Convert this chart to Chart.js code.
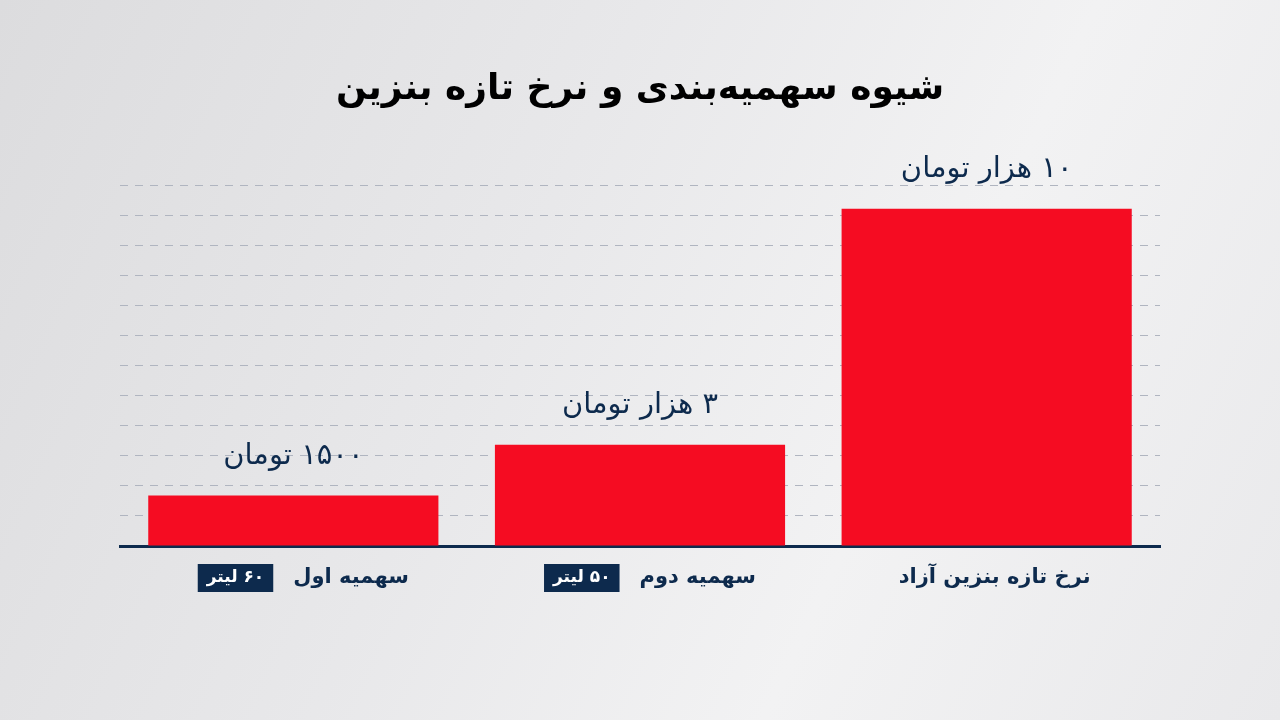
<!DOCTYPE html>
<html lang="fa">
<head>
<meta charset="utf-8">
<title>شیوه سهمیه‌بندی و نرخ تازه بنزین</title>
<script src="https://cdn.jsdelivr.net/npm/chart.js@4/dist/chart.umd.min.js"></script>
<style>
  html, body { margin: 0; padding: 0; }
  body {
    width: 1280px; height: 720px; overflow: hidden;
    background: linear-gradient(115deg, #dcdcde 0%, #e8e8ea 40%, #f2f2f3 68%, #e9e9eb 100%);
  }
  #wrap { position: relative; width: 1280px; height: 720px; }
</style>
</head>
<body>
<div id="wrap"><canvas id="fuel" width="1280" height="720"></canvas></div>
<script>
// data
const categories = ["سهمیه اول", "سهمیه دوم", "نرخ تازه بنزین آزاد"];
const prices = [1500, 3000, 10000];
const priceLabels = ["۱۵۰۰ تومان", "۳ هزار تومان", "۱۰ هزار تومان"];
const quotaLabels = ["۶۰ لیتر", "۵۰ لیتر", null];
const titleText = "شیوه سهمیه‌بندی و نرخ تازه بنزین";

const navy = "#0d2a4d";
const fontFamily = "'DejaVu Sans', sans-serif";

// labels above bars + category labels with quota boxes
const labelsPlugin = {
  id: "fuelLabels",
  afterDraw(chart) {
    const ctx = chart.ctx;
    const x = chart.scales.x;
    const y = chart.scales.y;
    const meta = chart.getDatasetMeta(0);
    ctx.save();
    ctx.direction = "rtl";

    // value labels
    ctx.fillStyle = navy;
    ctx.textAlign = "center";
    ctx.textBaseline = "middle";
    ctx.font = "29px " + fontFamily;
    meta.data.forEach(function (bar, i) {
      ctx.fillText(priceLabels[i], bar.x, bar.y - 39);
    });

    // category labels
    const ly = y.bottom + 32;
    categories.forEach(function (cat, i) {
      const cx = x.getPixelForValue(i);
      ctx.font = "bold 21px " + fontFamily;
      const lw = ctx.measureText(cat).width;
      if (!quotaLabels[i]) {
        ctx.fillStyle = navy;
        ctx.textAlign = "center";
        ctx.fillText(cat, cx + 8, ly);
        return;
      }
      ctx.font = "bold 17px " + fontFamily;
      const bw = ctx.measureText(quotaLabels[i]).width + 18;
      const gap = 20;
      const total = lw + gap + bw;
      const right = cx + 10 + total / 2;
      ctx.fillStyle = navy;
      ctx.textAlign = "right";
      ctx.font = "bold 21px " + fontFamily;
      ctx.fillText(cat, right, ly);
      const bx = right - lw - gap - bw;
      ctx.fillRect(bx, ly - 14, bw, 28);
      ctx.fillStyle = "#ffffff";
      ctx.textAlign = "center";
      ctx.font = "bold 17px " + fontFamily;
      ctx.fillText(quotaLabels[i], bx + bw / 2, ly);
    });
    ctx.restore();
  }
};

new Chart(document.getElementById("fuel"), {
  type: "bar",
  data: {
    labels: categories,
    datasets: [{
      data: prices,
      backgroundColor: "#f50c22",
      borderWidth: 0,
      barPercentage: 0.837,
      categoryPercentage: 1
    }]
  },
  options: {
    responsive: false,
    animation: false,
    devicePixelRatio: 1,
    layout: { padding: { left: 120, right: 120, top: 0, bottom: 166 } },
    plugins: {
      legend: { display: false },
      tooltip: { enabled: false },
      title: {
        display: true,
        text: titleText,
        color: "#000000",
        font: { family: fontFamily, size: 36, weight: "bold", lineHeight: 1.2 },
        padding: { top: 68, bottom: 74 }
      }
    },
    scales: {
      x: {
        grid: { display: false },
        border: { display: true, color: navy, width: 3 },
        ticks: { display: false }
      },
      y: {
        min: 0,
        max: 10700,
        ticks: { display: false, count: 13 },
        border: { display: false, dash: [8, 7] },
        grid: { color: "#b0b5c0", lineWidth: 1, drawTicks: false }
      }
    }
  },
  plugins: [labelsPlugin]
});
</script>
</body>
</html>
